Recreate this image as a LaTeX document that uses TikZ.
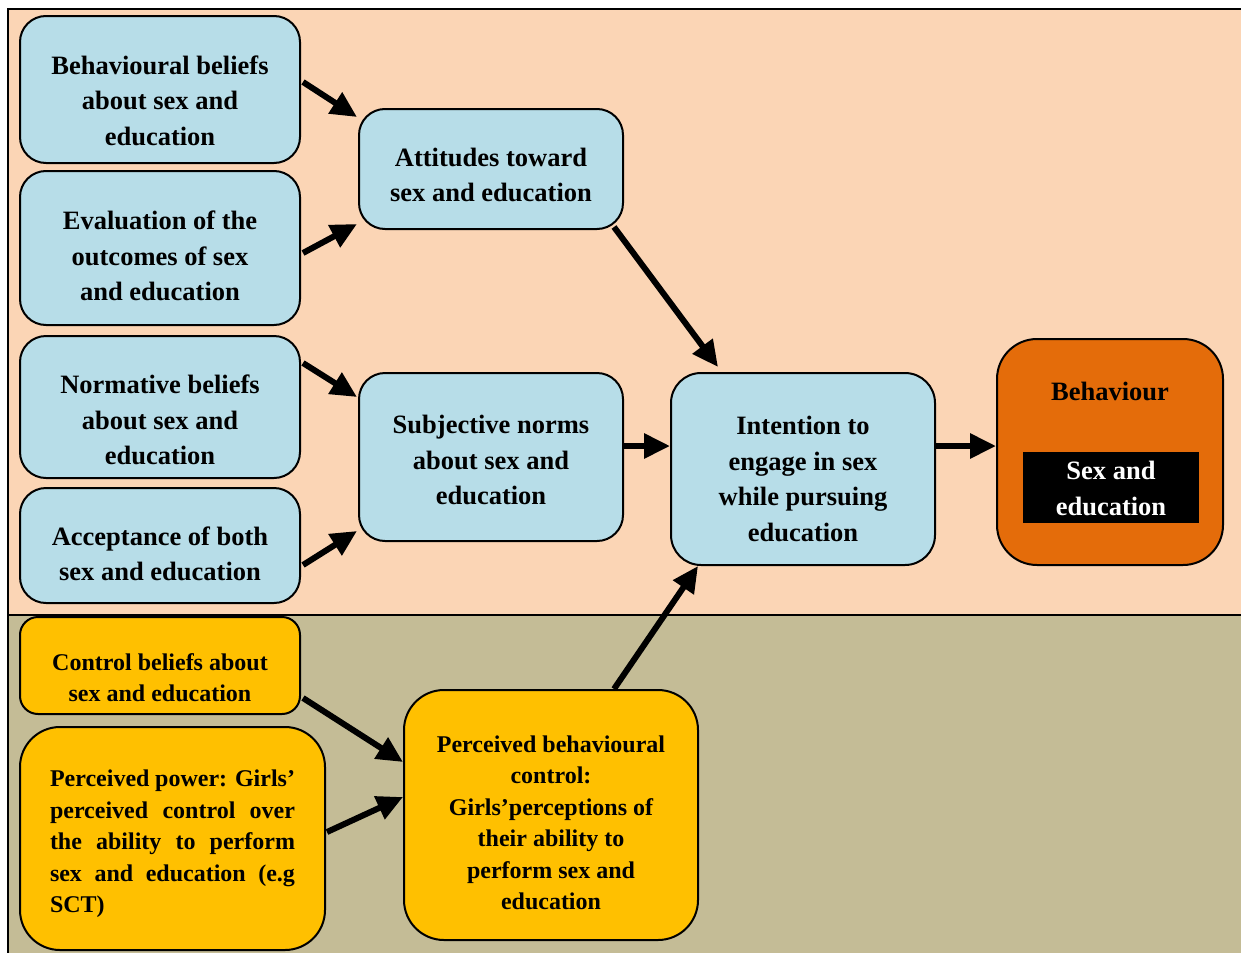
\documentclass[tikz,border=0pt]{standalone}
\usepackage{fontspec}
\setmainfont{Liberation Serif}
\usetikzlibrary{arrows.meta}
\definecolor{peach}{HTML}{FBD5B5}
\definecolor{tan}{HTML}{C4BC96}
\definecolor{lblue}{HTML}{B7DDE8}
\definecolor{dorange}{HTML}{E46C0A}
\definecolor{gold}{HTML}{FFC000}
\tikzset{
  big/.style={font=\bfseries\fontsize{26.5}{35.5}\selectfont, align=center, inner sep=0pt},
  small/.style={font=\bfseries\fontsize{24}{31.5}\selectfont, align=center, inner sep=0pt},
  box/.style={draw=black, line width=2pt, inner sep=0pt},
  bluebox/.style={box, fill=lblue, rounded corners=26pt},
  goldbox/.style={box, fill=gold},
  arr/.style={line width=6pt, -{Triangle[length=26pt,width=24pt]}}
}
\begin{document}
\begin{tikzpicture}[x=1pt,y=-1pt]
\useasboundingbox (0,0) rectangle (1241,953);
% background panels
\fill[peach] (8,9) rectangle (1241,615);
\fill[tan] (8,615) rectangle (1241,953);
\draw[line width=2pt] (1241,9) -- (8,9) -- (8,953);
\draw[line width=2pt] (8,615) -- (1241,615);

% left blue nodes
\node[bluebox, minimum width=280pt, minimum height=147pt] (b1) at (160,89.5) {};
\node[big] (b1t) at ([yshift=-11pt]b1) {Behavioural beliefs\\about sex and\\education};
\node[bluebox, minimum width=280pt, minimum height=154pt] (b2) at (160,248) {};
\node[big] (b2t) at ([yshift=-8pt]b2) {Evaluation of the\\outcomes of sex\\and education};
\node[bluebox, minimum width=280pt, minimum height=142pt] (b3) at (160,407) {};
\node[big] (b3t) at ([yshift=-13pt]b3) {Normative beliefs\\about sex and\\education};
\node[bluebox, minimum width=280pt, minimum height=115pt] (b4) at (160,545.5) {};
\node[big] (b4t) at ([yshift=-8.5pt]b4) {Acceptance of both\\sex and education};

% middle blue nodes
\node[bluebox, minimum width=264pt, minimum height=120pt] (att) at (491,169) {};
\node[big] (attt) at ([yshift=-6pt]att) {Attitudes toward\\sex and education};
\node[bluebox, minimum width=264pt, minimum height=168pt] (sub) at (491,457) {};
\node[big] (subt) at ([yshift=-3pt]sub) {Subjective norms\\about sex and\\education};
\node[bluebox, minimum width=264pt, minimum height=192pt, rounded corners=30pt] (int) at (803,469) {};
\node[big] (intt) at ([yshift=-10pt]int) {Intention to\\engage in sex\\while pursuing\\education};

% behaviour
\node[box, fill=dorange, rounded corners=40pt, minimum width=226pt, minimum height=226pt] (beh) at (1110,452) {};
\node[big, anchor=base] (behlab) at (1110,400) {Behaviour};
\node[fill=black, inner sep=0pt, minimum width=176pt, minimum height=71pt] (inner) at (1111,487.5) {};
\node[big, text=white] (innerlab) at ([yshift=-1pt]inner) {Sex and\\education};

% gold nodes
\node[goldbox, rounded corners=18pt, minimum width=280pt, minimum height=97pt] (cb) at (160,665.5) {};
\node[small] (cbt) at ([yshift=-12pt]cb) {Control beliefs about\\sex and education};
\node[goldbox, rounded corners=40pt, minimum width=305pt, minimum height=223pt] (pp) at (172.5,838.5) {};
\node[small, align=justify, text width=245pt] (ppt) at ([yshift=-5.5pt]pp)
  {Perceived power: Girls’\linebreak perceived control over\linebreak the ability to perform\linebreak sex and education (e.g\linebreak SCT)};
\node[goldbox, rounded corners=40pt, minimum width=294pt, minimum height=250pt] (pbc) at (551,815) {};
\node[small] (pbct) at ([yshift=-8pt]pbc)
  {Perceived behavioural\\control:\\Girls’perceptions of\\their ability to\\perform sex and\\education};

% arrows
\draw[arr] ([xshift=2pt,yshift=7.5pt]b1.east) -- ([xshift=-1pt,yshift=52pt]att.west);
\draw[arr] ([xshift=2pt,yshift=-5pt]b2.east) -- ([xshift=-1pt,yshift=-55pt]att.west);
\draw[arr] ([xshift=2pt,yshift=44pt]b3.east) -- ([xshift=-1pt,yshift=60pt]sub.west);
\draw[arr] ([xshift=2pt,yshift=-19.5pt]b4.east) -- ([xshift=-1pt,yshift=-74pt]sub.west);
\draw[arr] ([xshift=-10pt,yshift=3pt]att.south east) -- ([xshift=-85pt,yshift=5pt]int.north);
\draw[arr] ([yshift=11pt]sub.east) -- ([yshift=23pt]int.west);
\draw[arr] ([yshift=23pt]int.east) -- ([yshift=6pt]beh.west);
\draw[arr] ([xshift=2pt,yshift=-32.5pt]cb.east) -- ([yshift=53pt]pbc.west);
\draw[arr] ([xshift=1pt,yshift=6.5pt]pp.east) -- ([yshift=18pt]pbc.west);
\draw[arr] ([xshift=63pt]pbc.north) -- ([xshift=-105pt]int.south);
\end{tikzpicture}
\end{document}
